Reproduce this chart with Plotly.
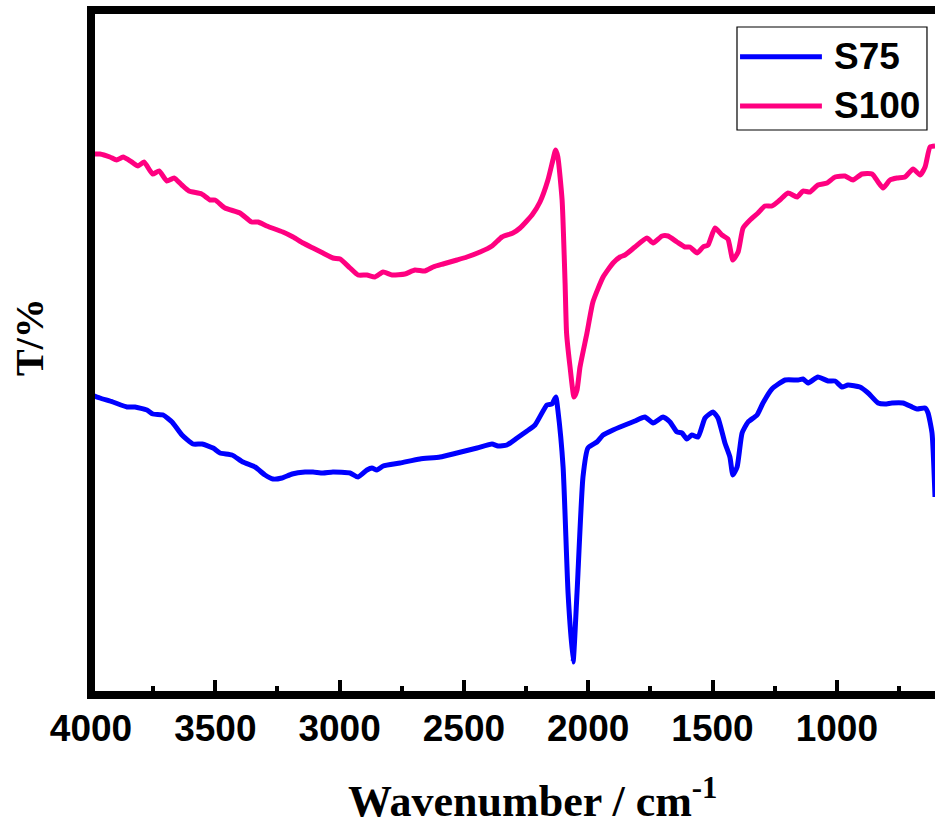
import plotly.graph_objects as go

# Wavenumber (cm^-1) and transmittance (arbitrary units)
wn_s100 = [3998, 3964, 3924, 3897, 3871, 3836, 3811, 3787, 3752, 3726, 3695, 3666, 3635, 3606,
           3555, 3521, 3501, 3461, 3401, 3354, 3328, 3293, 3228, 3187, 3147, 3107, 3067, 3027,
           2998, 2958, 2926, 2890, 2858, 2825, 2789, 2737, 2697, 2657, 2624, 2584, 2528, 2488,
           2435, 2387, 2347, 2303, 2274, 2226, 2194, 2162, 2142, 2131, 2122, 2105, 2093, 2087,
           2073, 2057, 2045, 2033, 2005, 1981, 1940, 1900, 1872, 1852, 1812, 1764, 1739, 1703,
           1679, 1643, 1611, 1591, 1562, 1538, 1518, 1490, 1462, 1438, 1418, 1397, 1377, 1349,
           1317, 1289, 1261, 1229, 1196, 1160, 1136, 1108, 1076, 1039, 1007, 967, 935, 899,
           858, 834, 814, 786, 758, 726, 693, 665, 645, 625, 605]
t_s100 = [541, 541, 538, 535, 538, 533, 529, 533, 521, 524, 514, 517, 510, 504,
          501, 495, 495, 487, 482, 473, 473, 469, 463, 458, 452, 447, 442, 437,
          436, 427, 420, 420, 418, 423, 420, 421, 425, 424, 428, 431, 435, 438,
          443, 449, 458, 462, 467, 480, 493, 515, 535, 545, 538, 495, 412, 362,
          328, 298, 305, 328, 362, 393, 418, 432, 438, 440, 448, 457, 452, 459,
          459, 453, 448, 448, 442, 448, 450, 467, 460, 456, 435, 443, 467, 475,
          482, 489, 489, 495, 502, 498, 504, 503, 510, 512, 518, 519, 515, 521,
          521, 513, 507, 515, 517, 518, 526, 520, 528, 548, 549]

wn_s75 = [3998, 3964, 3912, 3855, 3823, 3775, 3751, 3710, 3674, 3634, 3590, 3553, 3509, 3481,
          3433, 3389, 3340, 3300, 3268, 3232, 3191, 3139, 3107, 3067, 3027, 2958, 2926, 2890,
          2870, 2850, 2825, 2757, 2677, 2596, 2528, 2447, 2387, 2363, 2327, 2286, 2246, 2214,
          2166, 2146, 2130, 2122, 2101, 2081, 2061, 2045, 2021, 2001, 1965, 1940, 1900, 1872,
          1852, 1812, 1772, 1739, 1699, 1671, 1643, 1623, 1603, 1583, 1558, 1530, 1498, 1478,
          1450, 1430, 1418, 1401, 1381, 1357, 1321, 1297, 1261, 1208, 1156, 1136, 1116, 1076,
          1035, 1007, 979, 955, 907, 874, 834, 806, 778, 734, 697, 677, 645, 633, 617, 605]
t_s75 = [300, 297, 293, 288, 288, 285, 281, 280, 273, 260, 251, 251, 247, 242,
         240, 233, 228, 220, 216, 217, 221, 223, 223, 222, 223, 222, 218, 225,
         227, 225, 229, 232, 236, 238, 242, 247, 251, 249, 250, 257, 264, 270,
         290, 291, 298, 285, 228, 102, 33, 102, 218, 247, 253, 260, 265, 268,
         270, 274, 278, 272, 278, 273, 263, 262, 256, 260, 258, 277, 283, 277,
         252, 238, 220, 228, 262, 273, 280, 292, 306, 315, 315, 316, 312, 318,
         314, 314, 308, 310, 308, 302, 292, 291, 292, 292, 288, 286, 287, 282, 262, 198]

x_tickvals = [4000, 3500, 3000, 2500, 2000, 1500, 1000]
x_ticktext = ["4000", "3500", "3000", "2500", "2000", "1500", "1000"]
series_names = ["S75", "S100"]
series_colors = ["#0000FF", "#FF0080"]

fig = go.Figure()
fig.add_trace(go.Scatter(x=wn_s75, y=t_s75, mode="lines", name=series_names[0],
                         line=dict(color=series_colors[0], width=5, shape="spline", smoothing=0.5),
                         showlegend=False))
fig.add_trace(go.Scatter(x=wn_s100, y=t_s100, mode="lines", name=series_names[1],
                         line=dict(color=series_colors[1], width=5, shape="spline", smoothing=0.5),
                         showlegend=False))

sans = "Liberation Sans, Arial, sans-serif"
serif = "Liberation Serif, Times New Roman, serif"

fig.update_layout(
    width=935, height=834,
    margin=dict(l=91, r=0, t=10, b=139),
    plot_bgcolor="white", paper_bgcolor="white",
    xaxis=dict(range=[4000, 605], showline=False, showgrid=False, zeroline=False,
               tickmode="array", tickvals=x_tickvals, ticktext=x_ticktext,
               ticks="inside", ticklen=15, tickwidth=4, tickcolor="black",
               minor=dict(ticks="inside", ticklen=9, tickwidth=4, tickcolor="black",
                          tickmode="linear", tick0=0, dtick=250),
               tickfont=dict(family=sans, size=37, color="black", weight="bold"),
               ticklabelstandoff=8),
    yaxis=dict(range=[0, 685], showline=False, showgrid=False, zeroline=False,
               showticklabels=False, ticks=""),
    shapes=[
        dict(type="path", xref="paper", yref="paper", layer="above",
             path="M 1,1 L 0,1 L 0,0 L 1,0",
             line=dict(color="black", width=8)),
        # legend box
        dict(type="rect", xref="paper", yref="paper", layer="above",
             x0=0.7654, x1=0.9905, y0=0.8248, y1=0.9752,
             line=dict(color="black", width=1.2), fillcolor="white"),
        dict(type="line", xref="paper", yref="paper", layer="above",
             x0=0.769, x1=0.866, y0=0.9318, y1=0.9318,
             line=dict(color=series_colors[0], width=5)),
        dict(type="line", xref="paper", yref="paper", layer="above",
             x0=0.769, x1=0.866, y0=0.8599, y1=0.8599,
             line=dict(color=series_colors[1], width=5)),
    ],
    annotations=[
        dict(text=series_names[0], xref="paper", yref="paper", x=0.878, y=0.9318,
             xanchor="left", yanchor="middle", showarrow=False,
             font=dict(family=sans, size=37, color="black", weight="bold")),
        dict(text=series_names[1], xref="paper", yref="paper", x=0.878, y=0.8599,
             xanchor="left", yanchor="middle", showarrow=False,
             font=dict(family=sans, size=37, color="black", weight="bold")),
        dict(text="T/%", xref="paper", yref="paper", x=-0.0735, y=0.5226,
             xanchor="center", yanchor="middle", textangle=-90, showarrow=False,
             font=dict(family=serif, size=40, color="black", weight="bold")),
        dict(text="Wavenumber / cm<sup>-1</sup>",
             xref="paper", yref="paper", x=0.5237, y=-0.108,
             xanchor="center", yanchor="top", showarrow=False,
             font=dict(family=serif, size=44, color="black", weight="bold")),
    ],
)

fig.write_html("out.html")
